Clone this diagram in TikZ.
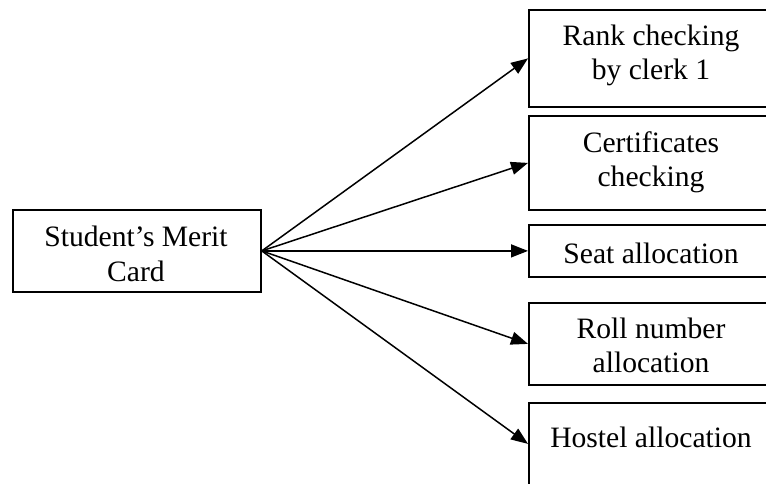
\documentclass[tikz,border=0pt]{standalone}
\usepackage{fontspec}
\setmainfont{Liberation Serif}
\usetikzlibrary{arrows.meta}
\begin{document}
\begin{tikzpicture}[x=1pt,y=-1pt,
  box/.style={draw, line width=1.8pt, inner sep=0pt, minimum width=246pt, anchor=north west},
  txt/.style={anchor=base, inner sep=0pt, font=\fontsize{29.6}{34}\selectfont},
  link/.style={line width=1.5pt, -{Triangle[length=17pt,width=13pt]}}]
\useasboundingbox (0,0) rectangle (766,483);
\clip (0,0) rectangle (766,483);

% source box
\node[box, minimum width=248pt, minimum height=82pt] (card) at (12,209) {};
\node[txt] (cardA) at (136,246.5) {Student’s Merit};
\node[txt] (cardB) at (136,281) {Card};

% target boxes (right edges run past the page)
\node[box, minimum height=97pt] (rank) at (528,9) {};
\node[txt] (rankA) at (651,45) {Rank checking};
\node[txt] (rankB) at (651,79) {by clerk 1};

\node[box, minimum height=94pt] (cert) at (528,115) {};
\node[txt] (certA) at (651,152) {Certificates};
\node[txt] (certB) at (651,186) {checking};

\node[box, minimum height=52pt] (seat) at (528,224) {};
\node[txt] (seatA) at (651,263) {Seat allocation};

\node[box, minimum height=82pt] (roll) at (528,302) {};
\node[txt] (rollA) at (651,338) {Roll number};
\node[txt] (rollB) at (651,372) {allocation};

\node[box, minimum height=82pt] (hostel) at (528,402) {};
\node[txt] (hostelA) at (651,447) {Hostel allocation};

% connectors
\draw[link] (card.east) -- (rank.west);
\draw[link] (card.east) -- (cert.west);
\draw[link] (card.east) -- (seat.west);
\draw[link] (card.east) -- (roll.west);
\draw[link] (card.east) -- (hostel.west);
\end{tikzpicture}
\end{document}
